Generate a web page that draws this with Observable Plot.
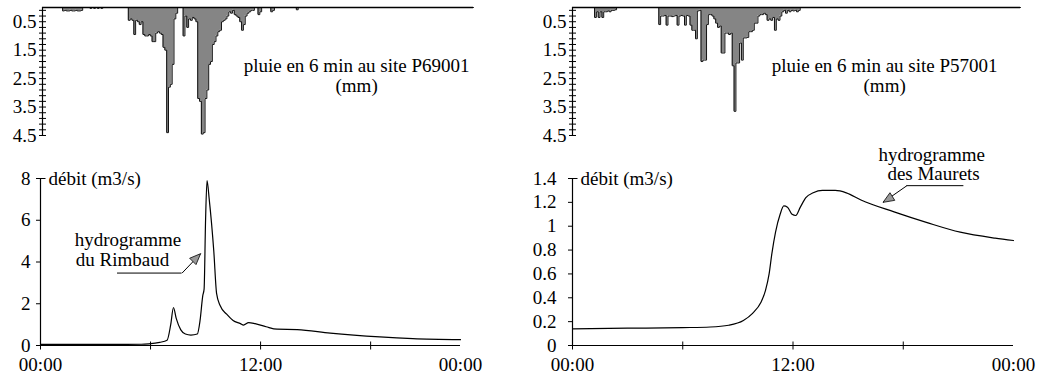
<!DOCTYPE html>
<html><head><meta charset="utf-8">
<script src="https://cdn.jsdelivr.net/npm/d3@7"></script>
<script src="https://cdn.jsdelivr.net/npm/@observablehq/plot@0.6"></script>
<style>
body{margin:0;background:#fff;}
#wrap{position:relative;width:1046px;height:381px;overflow:hidden;background:#fff;font-family:"Liberation Serif","DejaVu Serif",serif;}
.p{position:absolute;}
#wrap svg, #wrap svg text, #wrap svg g{font-family:"Liberation Serif","DejaVu Serif",serif !important;}
</style></head><body><div id="wrap"></div><script>
const FONT = "'Liberation Serif', 'DejaVu Serif', serif";
const FS = 19;

// ---- rain, 6-min intervals (start hour, mm) ----
const leftRainHour = [1.1,1.2,1.3,1.4,1.5,1.6,1.7,1.8,1.9,2.0,2.1,2.6,2.8,3.0,3.2,
 4.7,4.8,4.9,5.0,5.1,5.2,5.3,5.4,5.5,5.6,5.7,5.8,5.9,6.0,6.1,6.2,6.3,6.4,6.5,6.6,6.7,6.8,6.9,7.0,7.1,7.2,7.3,
 7.7,7.8,7.9,8.0,8.1,8.2,8.3,8.4,8.5,8.6,8.7,8.8,8.9,9.0,9.1,9.2,9.3,9.4,9.5,9.6,9.7,9.8,9.9,10.0,10.1,
 10.2,10.3,10.4,10.5,10.6,10.7,10.8,10.9,11.0,11.1,11.2,11.3,11.4,11.5,11.8,11.9,12.5,12.6,13.9];
const leftRainMm = [0.12,0.1,0.12,0.12,0.1,0.12,0.12,0.1,0.12,0.12,0.1,0.03,0.03,0.03,0.03,
 0.45,0.4,0.45,0.95,0.45,0.5,0.6,0.5,0.95,1.0,1.0,0.95,1.0,1.2,1.2,0.9,0.85,0.9,0.95,1.4,1.5,4.4,2.8,2.7,2.0,0.4,0.2,
 1.0,0.3,0.7,0.4,0.45,0.35,0.4,0.5,3.2,3.3,4.45,4.4,3.2,2.9,2.0,1.9,1.3,1.2,1.0,0.85,0.8,0.5,0.45,0.4,0.3,
 0.15,0.2,0.1,0.25,0.3,0.35,0.5,0.8,0.6,0.3,0.2,0.15,0.1,0.1,0.25,0.15,0.15,0.1,0.08];

const rightRainHour = [1.2,1.3,1.4,1.5,1.6,1.7,1.8,1.9,2.0,2.1,2.2,2.3,
 4.7,4.8,4.9,5.0,5.1,5.2,5.3,5.4,5.5,5.6,5.7,5.8,5.9,6.0,6.1,6.2,6.3,6.4,6.5,6.6,6.7,6.8,6.9,7.0,7.1,7.2,7.3,
 7.4,7.5,7.6,7.7,7.8,7.9,8.0,8.1,8.2,8.3,8.4,8.5,8.6,8.7,8.8,8.9,9.0,9.1,9.2,9.3,9.4,9.5,9.6,9.7,9.8,9.9,10.0,
 10.1,10.2,10.3,10.4,10.5,10.6,10.7,10.8,10.9,11.0,11.1,11.2,11.3,11.4,11.5,11.6,11.7,11.8,11.9,12.0,12.1,12.2,12.3];
const rightRainMm = [0.35,0.15,0.35,0.15,0.35,0.15,0.15,0.12,0.15,0.1,0.1,0.08,
 0.6,0.3,0.3,0.28,0.62,0.3,0.3,0.32,0.3,0.28,0.62,0.3,0.28,0.3,0.62,0.28,0.3,0.62,0.8,0.8,1.1,0.12,0.1,1.9,1.85,1.85,0.6,
 0.25,0.25,0.3,0.4,0.55,0.7,0.65,1.6,1.6,0.9,0.9,0.95,0.9,2.05,3.65,1.95,1.95,1.25,1.85,1.07,1.07,1.05,0.85,0.85,0.8,0.55,0.55,
 0.3,0.25,0.25,0.2,0.25,0.45,0.4,0.45,0.35,0.8,0.4,0.45,0.3,0.15,0.1,0.2,0.1,0.15,0.1,0.12,0.1,0.15,0.1];

// ---- discharge (hour, m3/s) ----
const leftFlowHour = [0,2,4,5.5,5.9,6.5,6.9,7.1,7.25,7.4,7.65,7.9,8.2,8.55,8.7,8.85,8.92,9.0,9.08,9.2,9.45,9.6,9.8,10.15,10.5,10.9,11.07,11.35,11.7,12.3,12.9,14.0,15.8,18.5,20.3,22.9];
const leftFlowQ    = [0.05,0.05,0.05,0.06,0.08,0.15,0.25,1.0,1.82,1.3,0.75,0.55,0.5,0.55,1.2,2.4,2.7,6.0,7.9,7.0,4.5,2.5,1.9,1.5,1.2,1.05,0.98,1.1,1.05,0.9,0.78,0.76,0.59,0.41,0.33,0.28];
const rightFlowHour = [0,3,6,7.5,8.5,9.3,9.8,10.25,10.5,10.7,10.85,11.05,11.3,11.5,11.7,11.95,12.15,12.4,12.7,13.1,13.6,14.3,14.9,15.7,17.5,19.3,21.1,23,24];
const rightFlowQ    = [0.14,0.145,0.15,0.155,0.17,0.21,0.27,0.36,0.46,0.6,0.77,0.95,1.1,1.17,1.16,1.1,1.09,1.16,1.24,1.28,1.3,1.3,1.28,1.22,1.12,1.03,0.95,0.9,0.88];

// ---- axes ----
const rainTicks = [0.5,1.5,2.5,3.5,4.5];
const rainMinorTicks = d3.range(0.1, 4.55, 0.2);
const leftFlowTicks = [0,2,4,6,8];
const rightFlowTicks = [0,0.2,0.4,0.6,0.8,1,1.2,1.4];
const timeTicks = [0,6,12,18];
const timeLabels = ["00:00","12:00","00:00"];
const leftEnd = 22.9, rightEnd = 24;

// ---- labels ----
const leftRainTitle = ["pluie en 6 min au site P69001", "(mm)"];
const rightRainTitle = ["pluie en 6 min au site P57001", "(mm)"];
const leftNote = ["hydrogramme", "du Rimbaud"];
const rightNote = ["hydrogramme", "des Maurets"];

const wrap = document.getElementById("wrap");
function place(node, left, top) { node.classList.add("p"); node.style.left = left + "px"; node.style.top = top + "px"; wrap.appendChild(node); }

const hTick = (a, b) => ({draw(c) { c.moveTo(-a, 0); c.lineTo(b, 0); }});
const vTick = (a, b) => ({draw(c) { c.moveTo(0, -a); c.lineTo(0, b); }});
const head = (deg, L = 11, W = 4.5) => ({draw(c) {
  const r = deg * Math.PI / 180, ux = Math.cos(r), uy = Math.sin(r);
  const bx = -ux * L, by = -uy * L;
  c.moveTo(0, 0);
  c.lineTo(bx - uy * W, by + ux * W);
  c.lineTo(bx + uy * W, by - ux * W);
  c.closePath();
}});

function rainTable(hours, mm, end) {
  const m = new Map(hours.map((h, i) => [Math.round(h * 10), mm[i]]));
  const out = [];
  for (let k = 0; k < Math.round(end * 10); k++) out.push({t: k / 10, v: m.get(k) || 0});
  return out;
}

const svgStyle = size => `font-family: ${FONT}; font-size: ${size}px; color: #000; background: #fff; overflow: visible;`;

function hyeto(hours, mm, xEnd, width, marginLeft, marginRight, title, titleAt) {
  const data = rainTable(hours, mm, xEnd);
  const step = data.flatMap(d => [{t: d.t, v: d.v}, {t: d.t + 0.1, v: d.v}]);
  return Plot.plot({
    width, height: 142, marginLeft, marginRight, marginTop: 7, marginBottom: 7,
    style: svgStyle(FS),
    x: {domain: [0, xEnd], axis: null},
    y: {domain: [0, 4.5], reverse: true, ticks: rainTicks, tickSize: 0, tickPadding: 6, tickFormat: d => d.toFixed(1), label: null},
    marks: [
      Plot.area(step, {x1: "t", y1: 0, y2: "v", fill: "#858585"}),
      Plot.line(step, {x: "t", y: "v", stroke: "#111", strokeWidth: 1}),
      Plot.ruleY([0], {stroke: "#000", strokeWidth: 1.4}),
      Plot.ruleX([0], {stroke: "#000", strokeWidth: 1.2}),
      Plot.dot(rainMinorTicks, {x: 0, y: d => d, symbol: hTick(3.5, 3.5), stroke: "#000", strokeWidth: 1}),
      Plot.text([title[0]], {x: titleAt[0], y: titleAt[1], fontSize: FS, fontFamily: FONT, textAnchor: "middle"}),
      Plot.text([title[1]], {x: titleAt[0], y: titleAt[1] + 0.72, fontSize: FS, fontFamily: FONT, textAnchor: "middle"})
    ]
  });
}

function hydro(hours, q, xEnd, yMax, yTicks, width, marginLeft, marginRight, yPad, note) {
  const data = hours.map((t, i) => ({t, q: q[i]}));
  const labelTicks = [0, 12, xEnd];
  return Plot.plot({
    width, height: 236, marginLeft, marginRight, marginTop: 34, marginBottom: 35,
    style: svgStyle(FS),
    x: {domain: [0, xEnd], ticks: labelTicks, tickSize: 0, tickPadding: 12, tickFormat: d => timeLabels[labelTicks.indexOf(d)], label: null},
    y: {domain: [0, yMax], ticks: yTicks, tickSize: 4, tickPadding: yPad, tickFormat: d => String(d), label: null},
    marks: [
      Plot.ruleX([0], {stroke: "#000", strokeWidth: 1.2}),
      Plot.ruleY([0], {stroke: "#000", strokeWidth: 1.2}),
      Plot.dot([yMax], {x: 0, y: d => d, symbol: hTick(0, 5), stroke: "#000", strokeWidth: 1}),
      Plot.dot(timeTicks, {x: d => d, y: 0, symbol: vTick(4, 4), stroke: "#000", strokeWidth: 1}),
      Plot.line(data, {x: "t", y: "q", curve: "monotone-x", stroke: "#000", strokeWidth: 1.2}),
      Plot.text(["débit (m3/s)"], {frameAnchor: "top-left", dx: 8, lineAnchor: "middle", textAnchor: "start", fontSize: FS, fontFamily: FONT}),
      Plot.ruleY([note.leader], {x1: note.x1, x2: note.x2, y: d => d, stroke: "#000", strokeWidth: 1}),
      Plot.link([note.leader], {x1: note.x2, y1: d => d, x2: note.tip[0], y2: note.tip[1], stroke: "#000", strokeWidth: 1}),
      Plot.dot([note.tip], {x: d => d[0], y: d => d[1], symbol: head(note.rot), fill: "#999", stroke: "#000", strokeWidth: 0.8}),
      Plot.text([note.text[0]], {x: note.tx[0], y: note.ty[0], fontSize: FS, fontFamily: FONT, textAnchor: "middle"}),
      Plot.text([note.text[1]], {x: note.tx[1], y: note.ty[1], fontSize: FS, fontFamily: FONT, textAnchor: "middle"})
    ]
  });
}

place(hyeto(leftRainHour, leftRainMm, 23.6, 530, 42, 57, leftRainTitle, [17.2, 2.05]), 0, 0);
place(hyeto(rightRainHour, rightRainMm, 24.4, 516, 42, 26, rightRainTitle, [17.0, 2.05]), 530, 0);
place(hydro(leftFlowHour, leftFlowQ, leftEnd, 8, leftFlowTicks, 530, 40, 70, 6,
  {leader: 3.47, x1: 4.2, x2: 7.72, tip: [8.73, 4.4], rot: -45, text: leftNote, tx: [4.77, 4.47], ty: [5.05, 4.1]}), 0, 144);
place(hydro(rightFlowHour, rightFlowQ, rightEnd, 1.4, rightFlowTicks, 516, 42, 33, 12,
  {leader: 1.34, x1: 21.3, x2: 18.2, tip: [16.9, 1.2], rot: 148, text: rightNote, tx: [19.55, 19.65], ty: [1.6, 1.44]}), 530, 144);
</script></body></html>
